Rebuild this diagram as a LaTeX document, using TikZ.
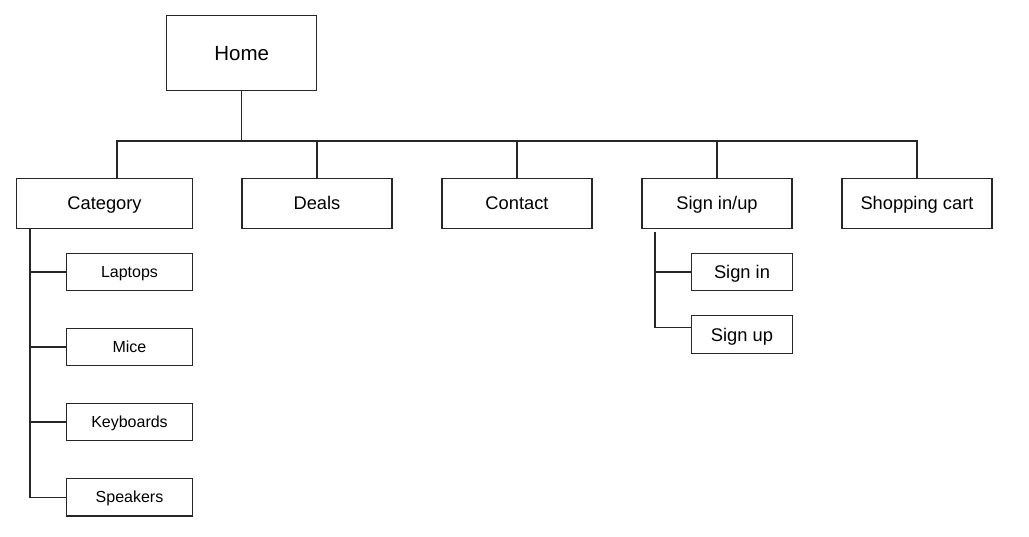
\documentclass[tikz,border=0pt]{standalone}
\usepackage{fontspec}
\setmainfont{Liberation Sans}
\begin{document}
\begin{tikzpicture}[x=1pt,y=-1pt,
  line/.style={draw=black!85,line width=1.2pt},
  box/.style={line,rectangle,fill=white,inner sep=0pt,text height=13.1pt,text depth=0pt,font=\fontsize{18.3}{20}\selectfont},
  topbox/.style={box,minimum width=150pt,minimum height=50pt},
  subbox/.style={box,minimum width=125.6pt,minimum height=37.4pt,text height=11.5pt,font=\fontsize{16}{18}\selectfont},
  sbox/.style={box,minimum width=100.6pt,minimum height=37.4pt}]
\path[use as bounding box,fill=white] (0,0) rectangle (1029,536);
\node[box,minimum width=150pt,minimum height=75pt,text height=14.7pt,font=\fontsize{20.5}{22}\selectfont] (home) at (241.7,53.2) {Home};
\node[topbox,minimum width=175.6pt] (cat) at (104.5,203.3) {Category};
\node[topbox] (deals) at (317,203.3) {Deals};
\node[topbox] (contact) at (517,203.3) {Contact};
\node[topbox] (sgn) at (717,203.3) {Sign in/up};
\node[topbox] (cart) at (917,203.3) {Shopping cart};
\node[subbox] (laptops) at (129.5,272) {Laptops};
\node[subbox] (mice) at (129.5,347) {Mice};
\node[subbox] (keyboards) at (129.5,422) {Keyboards};
\node[subbox] (speakers) at (129.5,497.2) {Speakers};
\node[sbox] (signin) at (742,272) {Sign in};
\node[sbox] (signup) at (742,334.5) {Sign up};
\coordinate (bus) at (0,141);
\coordinate (catc) at (117,0);
\coordinate (catx) at (30,0);
\coordinate (sx) at (655,0);
\draw[line] (home.south) -- (home.south |- bus);
\draw[line] (cat.north -| catc) -- (catc |- bus) -- (cart.north |- bus) -- (cart.north);
\draw[line] (deals.north) -- (deals.north |- bus);
\draw[line] (contact.north) -- (contact.north |- bus);
\draw[line] (sgn.north) -- (sgn.north |- bus);
\draw[line] (cat.south -| catx) -- (speakers.west -| catx) -- (speakers.west);
\draw[line] (laptops.west -| catx) -- (laptops.west);
\draw[line] (mice.west -| catx) -- (mice.west);
\draw[line] (keyboards.west -| catx) -- (keyboards.west);
\draw[line] ([yshift=-2.7pt]sgn.south -| sx) -- ([yshift=6.8pt]signup.west -| sx) -- ([yshift=6.8pt]signup.west);
\draw[line] (signin.west -| sx) -- (signin.west);
\end{tikzpicture}
\end{document}
